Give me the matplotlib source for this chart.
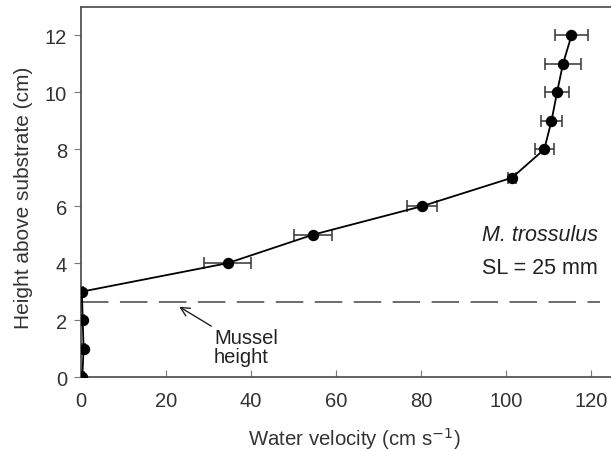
import matplotlib
matplotlib.use("Agg")
import matplotlib.pyplot as plt

plt.rcParams['font.family'] = ['Liberation Sans', 'DejaVu Sans']

height = [0, 1, 2, 3, 4, 5, 6, 7, 8, 9, 10, 11, 12]
velocity = [0.3, 0.6, 0.4, 0.2, 34.5, 54.6, 80.2, 101.4, 109.0, 110.7, 112.0, 113.4, 115.4]
err = [0.3, 0.3, 0.3, 0.2, 5.5, 4.5, 3.6, 1.0, 2.2, 2.4, 2.9, 4.3, 3.9]
mussel_height = 2.62

fig = plt.figure(figsize=(6.11, 4.52), dpi=100)
ax = fig.add_axes([0.1326, 0.1637, 0.8674, 0.8186])

ax.errorbar(velocity, height, xerr=err, fmt='o-', color='black', ms=7.2,
            lw=1.3, ecolor='#333333', elinewidth=1.1, capsize=4.5, capthick=1.1, zorder=3)
ax.hlines(mussel_height, 0, 122.1, color='#444444', lw=1.1, linestyles=[(0, (18, 7.5))])
ax.annotate('Mussel\nheight', xy=(23.1, 2.47), xytext=(31.3, 1.05), fontsize=14.5,
            ha='left', va='center', color='#222222', linespacing=1.0,
            arrowprops=dict(arrowstyle='->', color='#222222', lw=1.0,
                            shrinkA=0, shrinkB=0, mutation_scale=16),
            )
ax.text(121.7, 5.0, 'M. trossulus', style='italic', fontsize=15.5, ha='right', va='center', color='#222222')
ax.text(121.7, 3.85, 'SL = 25 mm', fontsize=15.5, ha='right', va='center', color='#222222')

ax.set_xlim(0, 124.7)
ax.set_ylim(0, 13)
ax.set_xticks([0, 20, 40, 60, 80, 100, 120])
ax.set_yticks([0, 2, 4, 6, 8, 10, 12])
ax.spines['right'].set_visible(False)
for s in ['top', 'left', 'bottom']:
    ax.spines[s].set_color('#555555')
    ax.spines[s].set_linewidth(1.3)
ax.tick_params(axis='x', direction='in', length=5, color='#777777', labelsize=14.5, labelcolor='#333333', pad=10)
ax.tick_params(axis='y', direction='out', length=5, color='#777777', labelsize=14.5, labelcolor='#333333', pad=5)
ax.set_xlabel('Water velocity (cm s$^{-1}$)', fontsize=14.7, color='#333333')
ax.set_ylabel('Height above substrate (cm)', fontsize=15, color='#333333')
ax.xaxis.set_label_coords(0.515, -0.13)
ax.yaxis.set_label_coords(-0.091, 0.486)

fig.savefig('out.png', dpi=100)
